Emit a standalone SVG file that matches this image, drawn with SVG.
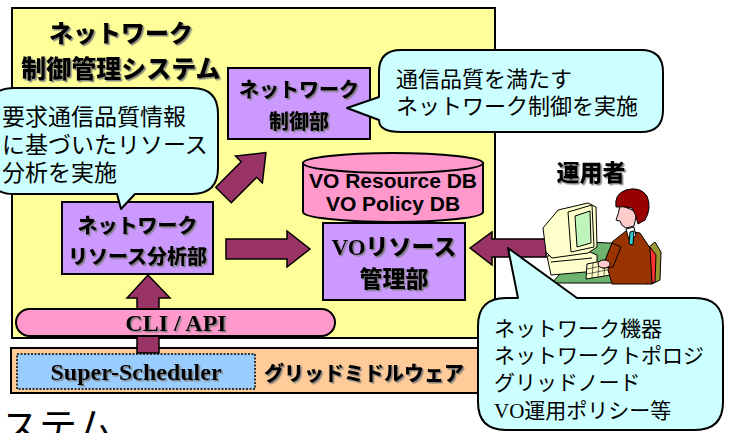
<svg xmlns="http://www.w3.org/2000/svg" width="730" height="433" viewBox="0 0 730 433">
  <defs>
    <filter id="shadow" x="-10%" y="-20%" width="125%" height="160%">
      <feDropShadow dx="1.5" dy="1.5" stdDeviation="0.4" flood-color="#7a7a7a" flood-opacity="0.9"/>
    </filter>
    <style>
      .frame{stroke:#000;stroke-width:2}
      .box{fill:#cc99ff;stroke:#000;stroke-width:2}
      .bubble{fill:#ccffff;stroke:#000;stroke-width:2;stroke-linejoin:round}
      .arrow{fill:#993366;stroke:#000;stroke-width:1.5;stroke-linejoin:miter}
      .jp{font-family:"Noto Sans CJK JP",sans-serif;fill:#000}
      .jpb{font-family:"Noto Sans CJK JP",sans-serif;font-weight:900;fill:#000}
      .ser{font-family:"Liberation Serif",serif;font-weight:700;fill:#000}
      .sans{font-family:"Liberation Sans",Arial,sans-serif;font-weight:700;fill:#000}
      .ink{stroke:#000;stroke-width:1;stroke-linejoin:round}
    </style>
  </defs>

  <rect width="730" height="433" fill="#fff"/>

  <!-- control system frame -->
  <g id="system-frame">
    <rect x="12" y="8" width="483" height="330" fill="#ffff99" class="frame"/>
    <g filter="url(#shadow)">
      <text class="jpb" x="121" y="42" font-size="24" text-anchor="middle">ネットワーク</text>
      <text class="jpb" x="121" y="78" font-size="25" text-anchor="middle">制御管理システム</text>
    </g>
  </g>

  <!-- grid middleware layer -->
  <g id="grid-middleware">
    <rect x="11" y="348" width="484" height="45" fill="#ffcc99" class="frame"/>
    <text class="jpb" x="364" y="381" font-size="20" text-anchor="middle" filter="url(#shadow)">グリッドミドルウェア</text>
  </g>
  <g id="super-scheduler">
    <rect x="17" y="354" width="238" height="35" fill="#99ccff" stroke="#000" stroke-width="1.5" stroke-dasharray="2,1.5"/>
    <text class="ser" x="136" y="380" font-size="24" text-anchor="middle" filter="url(#shadow)">Super-Scheduler</text>
  </g>

  <!-- connectors -->
  <g id="connectors">
    <polygon class="arrow" points="148,275 170,298 159,298 159,353 137,353 137,298 127,298"/>
    <polygon class="arrow" transform="translate(223.5,195) rotate(-45)" points="0,-11 36,-11 36,-19 60,0 36,19 36,11 0,11"/>
    <polygon class="arrow" points="226,239 287,239 287,231 310,249 287,267 287,259 226,259"/>
    <polygon class="arrow" points="470,248 492,232 492,239 546,239 546,257 492,257 492,265"/>
  </g>

  <!-- CLI / API -->
  <g id="cli-api">
    <rect x="16" y="309" width="319" height="27" rx="13.5" fill="#ff99cc" class="frame"/>
    <text class="ser" x="176" y="331" font-size="24" text-anchor="middle" filter="url(#shadow)">CLI / API</text>
  </g>

  <!-- network control unit -->
  <g id="network-control">
    <rect x="228" y="68" width="142" height="71" class="box"/>
    <g filter="url(#shadow)">
      <text class="jpb" x="299" y="97" font-size="20" text-anchor="middle">ネットワーク</text>
      <text class="jpb" x="299" y="129" font-size="20" text-anchor="middle">制御部</text>
    </g>
  </g>

  <!-- network resource analysis unit -->
  <g id="resource-analysis">
    <rect x="62" y="202" width="151" height="72" class="box"/>
    <g filter="url(#shadow)">
      <text class="jpb" x="137.5" y="233" font-size="20" text-anchor="middle">ネットワーク</text>
      <text class="jpb" x="137.5" y="264" font-size="20" text-anchor="middle">リソース分析部</text>
    </g>
  </g>

  <!-- VO databases -->
  <g id="vo-db">
    <path d="M303,163 L303,212 A90,10 0 0 0 483,212 L483,163 Z" fill="#ff99cc" class="frame"/>
    <ellipse cx="393" cy="163" rx="90" ry="10" fill="#ff99cc" class="frame"/>
    <text class="sans" x="393" y="188" font-size="21" text-anchor="middle">VO Resource DB</text>
    <text class="sans" x="393" y="211" font-size="21" text-anchor="middle">VO Policy DB</text>
  </g>

  <!-- VO resource management unit -->
  <g id="vo-resource-management">
    <rect x="323" y="223" width="142" height="77" class="box"/>
    <g filter="url(#shadow)">
      <text class="jpb" x="394" y="255" font-size="23" text-anchor="middle"><tspan font-family="Liberation Serif, serif" font-weight="700">VO</tspan>リソース</text>
      <text class="jpb" x="394" y="287" font-size="23" text-anchor="middle">管理部</text>
    </g>
  </g>

  <!-- callout: analysis -->
  <g id="note-analysis">
    <path class="bubble" d="M-12,114 Q-12,88 14,88 L192,88 Q218,88 218,114 L218,168 Q218,194 192,194 L135,194 L121,209 L117,194 L14,194 Q-12,194 -12,168 Z"/>
    <text class="jp" x="2" y="124.5" font-size="23">要求通信品質情報</text>
    <text class="jp" x="2" y="152.5" font-size="23">に基づいたリソース</text>
    <text class="jp" x="2" y="180.5" font-size="23">分析を実施</text>
  </g>

  <!-- callout: control -->
  <g id="note-control">
    <path class="bubble" d="M401,50 L641,50 Q663,50 663,72 L663,110 Q663,132 641,132 L401,132 Q379,132 379,120 L347,108 L379,97 L379,72 Q379,50 401,50 Z"/>
    <text class="jp" x="396" y="86.5" font-size="22">通信品質を満たす</text>
    <text class="jp" x="396" y="113.5" font-size="22">ネットワーク制御を実施</text>
  </g>

  <!-- operator -->
  <g id="operator">
    <text class="jpb" x="591" y="181" font-size="23" text-anchor="middle" filter="url(#shadow)">運用者</text>
    <polygon class="ink" fill="#999933" points="645,250 655,242 661,252 660,280 652,284"/>
    <polygon class="ink" fill="#ff3333" points="640,256 650,247 656,255 655,282 646,284"/>
    <polygon class="ink" fill="#6fb36f" points="552,283 648,283 630,244 588,242"/>
    <polygon class="ink" fill="#ffffcc" points="547,256 590,252 597,255 597,271 551,275"/>
    <line class="ink" x1="551" y1="262" x2="592" y2="258"/>
    <path class="ink" fill="#ffffcc" d="M543,228 L558,210 L588,203 L596,207 L597,247 L588,253 L552,258 L546,252 Z"/>
    <polygon class="ink" fill="#ffffcc" points="568,212 592,205 594,247 571,252"/>
    <polygon class="ink" fill="#bff5bb" points="575,216 590,211 591,243 577,247"/>
    <polygon class="ink" fill="#ffffcc" points="587,264 612,259 611,275 586,279"/>
    <path stroke="#000" stroke-width="0.6" fill="none" d="M587,269 L611,264 M587,274 L611,269 M593,263 L592,278 M599,262 L598,277 M605,261 L604,276"/>
    <path class="ink" fill="#993300" d="M612,242 L626,231 L640,233 L650,248 L652,284 L612,284 L608,270 Z"/>
    <polygon class="ink" fill="#993300" points="612,243 621,247 613,267 602,268"/>
    <ellipse class="ink" cx="604" cy="264" rx="6" ry="4" fill="#ffcccc"/>
    <path class="ink" fill="#ffcccc" d="M620,205 Q619,213 616,220 L620,221 Q621,226 626,228 L634,226 L637,212 Z"/>
    <path class="ink" fill="#990000" d="M616,207 Q614,194 626,190 Q640,186 647,196 Q652,208 645,220 L638,224 Q636,214 632,208 Q624,206 616,207 Z"/>
    <polygon class="ink" fill="#fff" points="626,229 634,227 636,236 629,240"/>
    <polygon class="ink" fill="#33cccc" points="630,232 634,231 633,245 629,244"/>
  </g>

  <!-- callout: managed information -->
  <g id="note-information">
    <path class="bubble" d="M478,326 Q478,298 506,298 L518,298 L508,248 L577,298 L695,298 Q723,298 723,326 L723,402 Q723,430 695,430 L506,430 Q478,430 478,402 Z"/>
    <text class="jp" x="494" y="336" font-size="21">ネットワーク機器</text>
    <text class="jp" x="494" y="363" font-size="21">ネットワークトポロジ</text>
    <text class="jp" x="494" y="390" font-size="21">グリッドノード</text>
    <text class="jp" x="494" y="418" font-size="21"><tspan font-family="Liberation Serif, serif">VO</tspan>運用ポリシー等</text>
  </g>

  <!-- caption fragment at the lower edge -->
  <text class="jp" x="1" y="440" font-size="38">ステム</text>
</svg>
